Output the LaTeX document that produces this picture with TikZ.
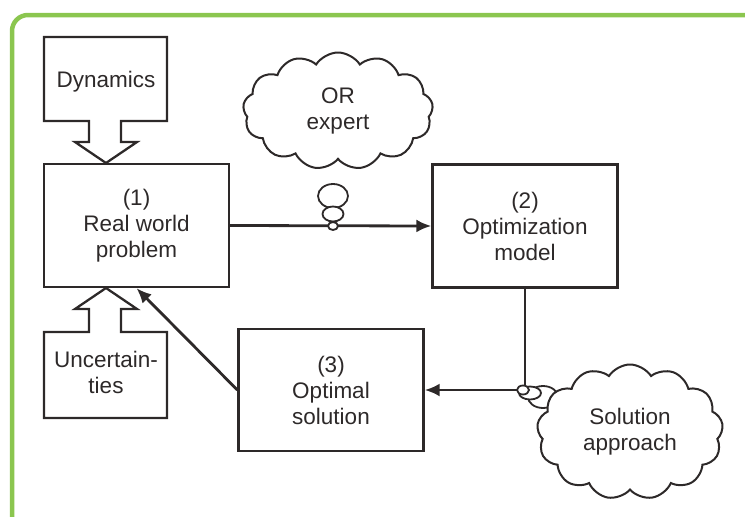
\documentclass[tikz,border=0pt]{standalone}
\usepackage{fontspec}
\setmainfont{Liberation Sans}
\usetikzlibrary{shapes.symbols,shapes.geometric,arrows.meta}

\definecolor{framegreen}{RGB}{139,198,79}
\definecolor{inkgray}{RGB}{45,41,41}

\tikzset{
  every node/.style={text=inkgray, font=\fontsize{22.5}{26}\selectfont, align=center},
  stagebox/.style={draw=inkgray, line width=2.3pt, minimum width=185pt, minimum height=123pt},
  thought/.style={cloud, cloud puffs=13, cloud puff arc=115, cloud ignores aspect,
    draw=inkgray, line width=2pt, fill=white, inner sep=0pt},
  bubble/.style={ellipse, draw=inkgray, line width=1.8pt, inner sep=0pt},
  flow/.style={draw=inkgray, line width=2.8pt, -{Latex[length=15pt,width=13pt]}},
  blockarrow/.style={draw=inkgray, line width=2.3pt, line join=miter}
}

\begin{document}
\begin{tikzpicture}[x=1pt,y=-1pt]
  \useasboundingbox (0,0) rectangle (745,517);

  % green frame, cut off at right and bottom
  \draw[framegreen, line width=4.5pt, rounded corners=16pt] (12,15) rectangle (770,540);

  % outside influences as block arrows
  \draw[blockarrow] (44,37) -- (167,37) -- (167,121) -- (121,121) -- (121,142) -- (137,142)
    -- (106,163) -- (75,142) -- (89,142) -- (89,121) -- (44,121) -- cycle;
  \node (dyn) at (106,82) {Dynamics};

  \draw[blockarrow] (44,418) -- (167,418) -- (167,332) -- (121,332) -- (121,309) -- (137,309)
    -- (106,288) -- (75,309) -- (89,309) -- (89,332) -- (44,332) -- cycle;
  \node (unc) at (106,372) {Uncertain-\\ties};

  % the three stages
  \node[stagebox] (real) at (136.5,225.5) {(1)\\Real world\\problem};
  \node[stagebox] (model) at (525,226) {(2)\\Optimization\\model};
  \node[stagebox, minimum height=122pt] (sol) at (331,390) {(3)\\Optimal\\solution};

  % connections between stages
  \draw[flow] (real.east) -- (model.west);
  \draw[flow] (model.south) |- (sol.east);
  \draw[flow] (sol.west) -- (real.south);

  % thought clouds
  \node[thought, minimum width=190pt, minimum height=117pt] (orexp) at (338,111) {OR\\expert};
  \node[bubble, fill=white, minimum width=30pt, minimum height=24pt] (orb1) at (333,196) {};
  \node[bubble, fill=white, minimum width=21pt, minimum height=15pt] (orb2) at (333,214) {};
  \node[bubble, fill=white, minimum width=10pt, minimum height=8pt] (orb3) at (333,226) {};

  \node[bubble, minimum width=30pt, minimum height=22pt] (sab3) at (543,397) {};
  \node[thought, minimum width=186pt, minimum height=135pt] (solapp) at (630,432) {Solution\\approach};
  \node[bubble, fill=white, minimum width=22pt, minimum height=13pt] (sab2) at (530,393) {};
  \node[bubble, fill=white, minimum width=12pt, minimum height=9pt] (sab1) at (523,390) {};
\end{tikzpicture}
\end{document}
